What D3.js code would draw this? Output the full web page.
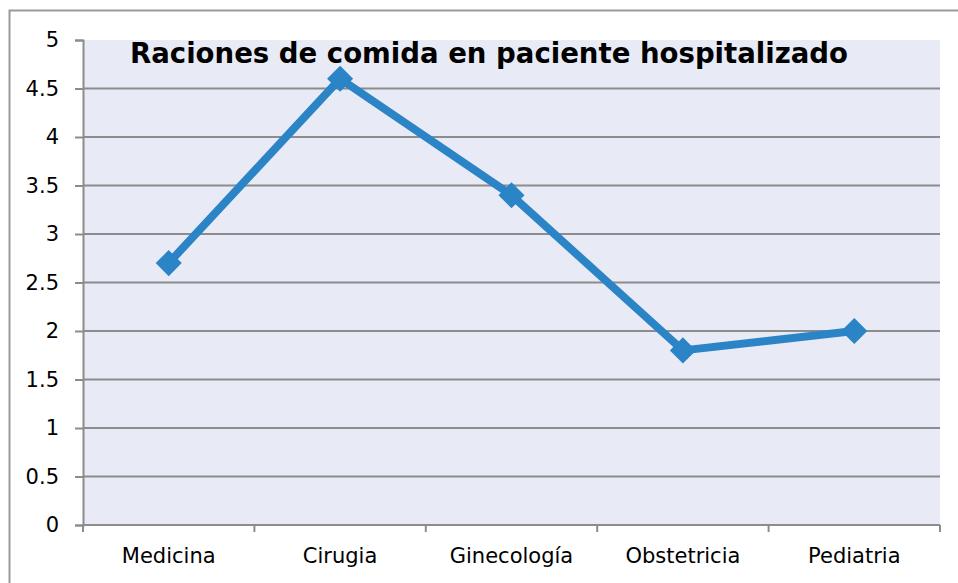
<!DOCTYPE html>
<html>
<head>
<meta charset="utf-8">
<script src="https://cdn.jsdelivr.net/npm/d3@7"></script>
<style>
  body { margin: 0; background: #fff; }
  svg { display: block; font-family: "DejaVu Sans", sans-serif; }
</style>
</head>
<body>
<svg id="chart" width="958" height="583"></svg>
<script>
// chart data
var categories = ['Medicina', 'Cirugia', 'Ginecología', 'Obstetricia', 'Pediatria'];
var values = [2.7, 4.6, 3.4, 1.8, 2.0];
var yTicks = [0, 0.5, 1, 1.5, 2, 2.5, 3, 3.5, 4, 4.5, 5];
var title = 'Raciones de comida en paciente hospitalizado';

var svg = d3.select('#chart');
var plot = { left: 83, right: 940, top: 40, bottom: 525 };

// outer frame
svg.append('rect')
  .attr('x', 9.5).attr('y', 10.5)
  .attr('width', 1000).attr('height', 1000)
  .attr('fill', 'none')
  .attr('stroke', '#999')
  .attr('stroke-width', 2);

var x = d3.scaleBand()
  .domain(categories)
  .range([plot.left, plot.right]);

var y = d3.scaleLinear()
  .domain([0, 5])
  .range([plot.bottom, plot.top]);

// plot background
svg.append('rect')
  .attr('x', plot.left).attr('y', plot.top)
  .attr('width', plot.right - plot.left)
  .attr('height', plot.bottom - plot.top)
  .attr('fill', '#e8ebf5');

// gridlines
svg.append('g')
  .selectAll('line')
  .data(yTicks.filter(function (d) { return d > 0 && d < 5; }))
  .enter().append('line')
  .attr('x1', plot.left).attr('x2', plot.right)
  .attr('y1', function (d) { return y(d); })
  .attr('y2', function (d) { return y(d); })
  .attr('stroke', '#8c8c8c')
  .attr('stroke-width', 2);

// y axis
var yAxis = svg.append('g')
  .attr('transform', 'translate(' + plot.left + ',0)')
  .call(d3.axisLeft(y).tickValues(yTicks).tickSize(8).tickPadding(16)
    .tickFormat(function (d) { return String(d); }));
yAxis.select('.domain').attr('stroke', '#8c8c8c').attr('stroke-width', 2);
yAxis.selectAll('.tick line').attr('stroke', '#8c8c8c').attr('stroke-width', 2);
yAxis.selectAll('text')
  .attr('font-size', 21)
  .attr('font-family', '"DejaVu Sans", sans-serif')
  .attr('fill', '#000');

// x axis: ticks at category boundaries
var xBound = d3.scaleLinear().domain([0, categories.length]).range([plot.left, plot.right]);
var xAxis = svg.append('g')
  .attr('transform', 'translate(0,' + plot.bottom + ')');
xAxis.append('line')
  .attr('x1', plot.left).attr('x2', plot.right)
  .attr('stroke', '#8c8c8c').attr('stroke-width', 2);
xAxis.selectAll('.btick')
  .data(d3.range(categories.length + 1))
  .enter().append('line')
  .attr('x1', function (d) { return xBound(d); })
  .attr('x2', function (d) { return xBound(d); })
  .attr('y1', 0).attr('y2', 7)
  .attr('stroke', '#8c8c8c').attr('stroke-width', 2);
xAxis.selectAll('.lbl')
  .data(categories)
  .enter().append('text')
  .attr('x', function (d) { return x(d) + x.bandwidth() / 2; })
  .attr('y', 38)
  .attr('text-anchor', 'middle')
  .attr('font-size', 21)
  .attr('fill', '#000')
  .text(function (d) { return d; });

// line series
var line = d3.line()
  .x(function (d, i) { return x(categories[i]) + x.bandwidth() / 2; })
  .y(function (d) { return y(d); });

svg.append('path')
  .datum(values)
  .attr('d', line)
  .attr('fill', 'none')
  .attr('stroke', '#2a84c6')
  .attr('stroke-width', 8)
  .attr('stroke-linejoin', 'round');

// diamond markers
svg.append('g')
  .selectAll('path')
  .data(values)
  .enter().append('path')
  .attr('d', d3.symbol().type(d3.symbolSquare).size(340))
  .attr('transform', function (d, i) {
    return 'translate(' + (x(categories[i]) + x.bandwidth() / 2) + ',' + y(d) + ') rotate(45)';
  })
  .attr('fill', '#2a84c6');

// title
svg.append('text')
  .attr('x', 489)
  .attr('y', 63)
  .attr('text-anchor', 'middle')
  .attr('font-size', 28)
  .attr('font-weight', 'bold')
  .attr('fill', '#000')
  .attr('textLength', 718)
  .attr('lengthAdjust', 'spacingAndGlyphs')
  .text(title);
</script>
</body>
</html>
